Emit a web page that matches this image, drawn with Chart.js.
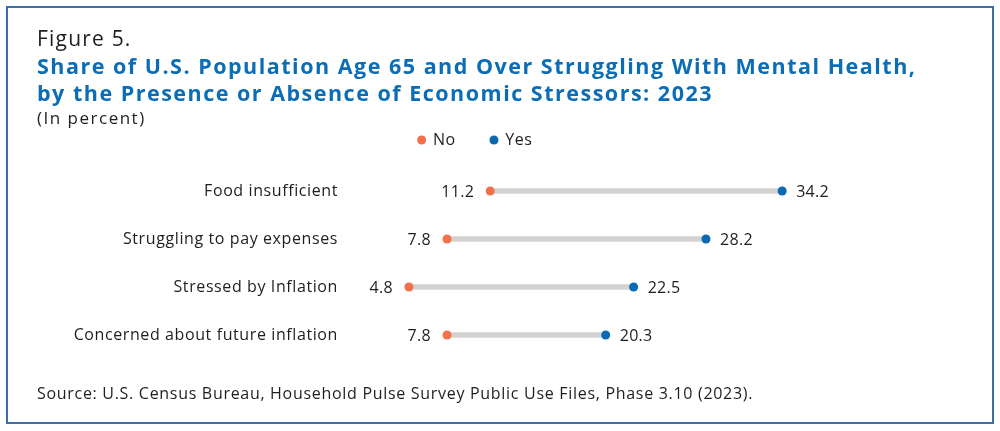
<!DOCTYPE html>
<html>
<head>
<meta charset="utf-8">
<script src="https://cdn.jsdelivr.net/npm/chart.js@4"></script>
<style>
  html, body { margin: 0; padding: 0; background: #fff; }
  #wrap { position: relative; width: 1000px; height: 431px; }
</style>
</head>
<body>
<div id="wrap"><canvas id="c" width="1000" height="431"></canvas></div>
<script>
const categories = ["Food insufficient", "Struggling to pay expenses", "Stressed by Inflation", "Concerned about future inflation"];
const noValues = [11.2, 7.8, 4.8, 7.8];
const yesValues = [34.2, 28.2, 22.5, 20.3];
const seriesNames = ["No", "Yes"];

const FONT = "'Open Sans', sans-serif";
const ORANGE = "#f2714a";
const BLUE = "#0a69b3";
const TEXT = "#1e1e1e";

function spaced(ctx, px) { if ("letterSpacing" in ctx) ctx.letterSpacing = px + "px"; }

const headerPlugin = {
  id: "header",
  beforeLayout(chart) {
    spaced(chart.ctx, 0.6);
    const lg = chart.legend;
    if (lg && !lg._fixed) {
      const fit = lg.fit.bind(lg);
      lg.fit = function () { fit(); this.height = 70; };
      lg._fixed = true;
    }
  },
  beforeDraw(chart) {
    const ctx = chart.ctx;
    spaced(ctx, 0.6);
    ctx.save();
    ctx.fillStyle = "#fff";
    ctx.fillRect(0, 0, chart.width, chart.height);
    ctx.strokeStyle = "#3d6ea6";
    ctx.lineWidth = 2;
    ctx.strokeRect(7, 7, 986, 416);
    ctx.textBaseline = "alphabetic";
    ctx.textAlign = "left";
    ctx.fillStyle = TEXT;
    spaced(ctx, 1.2);
    ctx.font = "400 21px " + FONT;
    ctx.fillText("Figure 5.", 37, 46);
    ctx.fillStyle = "#0b6db6";
    spaced(ctx, 1.5);
    ctx.font = "700 21.5px " + FONT;
    ctx.fillText("Share of U.S. Population Age 65 and Over Struggling With Mental Health,", 37, 74);
    ctx.fillText("by the Presence or Absence of Economic Stressors: 2023", 37, 101);
    ctx.fillStyle = TEXT;
    ctx.font = "400 17px " + FONT;
    ctx.fillText("(In percent)", 37, 124);
    spaced(ctx, 0.7);
    ctx.font = "400 16px " + FONT;
    ctx.fillText("Source: U.S. Census Bureau, Household Pulse Survey Public Use Files, Phase 3.10 (2023).", 37, 399);
    ctx.restore();
  }
};

const valueLabels = {
  id: "valueLabels",
  afterDatasetsDraw(chart) {
    const ctx = chart.ctx;
    ctx.save();
    spaced(ctx, 0.3);
    ctx.font = "400 16px " + FONT;
    ctx.fillStyle = TEXT;
    ctx.textBaseline = "middle";
    [1, 2].forEach(di => {
      const meta = chart.getDatasetMeta(di);
      const vals = chart.data.datasets[di].data;
      meta.data.forEach((pt, i) => {
        const txt = vals[i].toFixed(1);
        if (di === 1) { ctx.textAlign = "right"; ctx.fillText(txt, pt.x - 16, pt.y + 1); }
        else { ctx.textAlign = "left"; ctx.fillText(txt, pt.x + 14, pt.y + 1); }
      });
    });
    ctx.restore();
  }
};

new Chart(document.getElementById("c"), {
  type: "bar",
  data: {
    labels: categories,
    datasets: [
      {
        type: "bar",
        data: categories.map((c, i) => [noValues[i], yesValues[i]]),
        backgroundColor: "#d2d2d2",
        barThickness: 5,
        borderSkipped: false,
        order: 3
      },
      {
        type: "line",
        label: seriesNames[0],
        data: noValues,
        showLine: false,
        pointStyle: "circle",
        pointRadius: 4.5,
        pointHoverRadius: 4.5,
        pointBackgroundColor: ORANGE,
        pointBorderWidth: 0,
        backgroundColor: ORANGE,
        borderColor: ORANGE,
        order: 1
      },
      {
        type: "line",
        label: seriesNames[1],
        data: yesValues,
        showLine: false,
        pointStyle: "circle",
        pointRadius: 4.5,
        pointHoverRadius: 4.5,
        pointBackgroundColor: BLUE,
        pointBorderWidth: 0,
        backgroundColor: BLUE,
        borderColor: BLUE,
        order: 1
      }
    ]
  },
  options: {
    indexAxis: "y",
    responsive: false,
    animation: false,
    devicePixelRatio: 1,
    layout: { padding: { top: 97, bottom: 72, left: 0, right: 49 } },
    scales: {
      x: { display: false, min: 0, max: 47.5 },
      y: {
        grid: { display: false, drawTicks: false },
        border: { display: false },
        ticks: { font: { family: FONT, size: 16 }, color: TEXT, padding: 10 },
        afterFit(scale) { scale.width = 348; }
      }
    },
    plugins: {
      tooltip: { enabled: false },
      legend: {
        position: "top",
        labels: {
          filter: item => item.datasetIndex > 0,
          usePointStyle: true,
          boxWidth: 6.4,
          boxHeight: 6.4,
          padding: 35,
          color: TEXT,
          font: { family: FONT, size: 16 }
        }
      }
    }
  },
  plugins: [headerPlugin, valueLabels]
});
</script>
</body>
</html>
